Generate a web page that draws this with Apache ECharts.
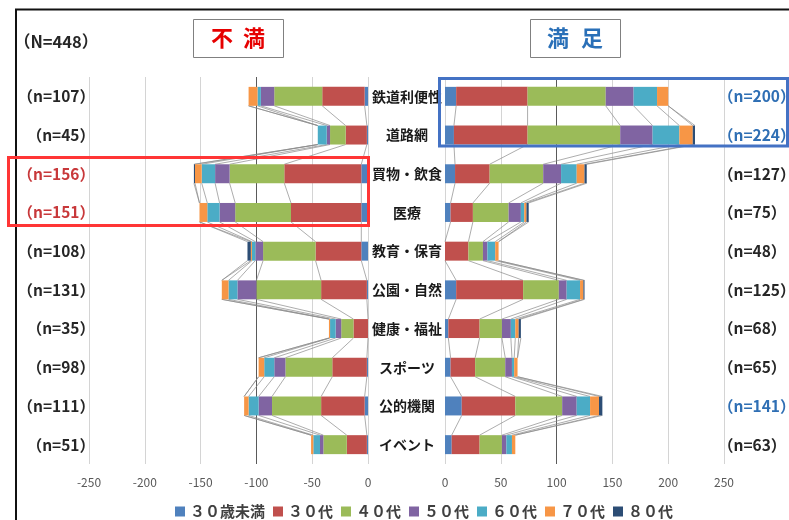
<!DOCTYPE html>
<html>
<head>
<meta charset="utf-8">
<script src="https://cdn.jsdelivr.net/npm/echarts@6/dist/echarts.min.js"></script>
<style>
html,body{margin:0;padding:0;background:#fff}
#c{width:789px;height:520px}
</style>
</head>
<body>
<div id="c"></div>
<script>
// Survey items (top to bottom)
const categories = ['鉄道利便性','道路網','買物・飲食','医療','教育・保育','公園・自然','健康・福祉','スポーツ','公的機関','イベント'];
const ageGroups = ['３０歳未満','３０代','４０代','５０代','６０代','７０代','８０代'];
const ageColors = ['#4f81bd','#c0504d','#9bbb59','#8064a2','#4bacc6','#f79646','#2c4d75'];

// 不満 (dissatisfied) respondents by age group, in category order
const dissatU30 = [3, 1, 6, 6, 6, 1, 0, 1, 3, 1];
const dissat30s = [38, 19, 69, 63, 41, 41, 13, 31, 39, 18];
const dissat40s = [43, 14, 49, 50, 47, 58, 11, 42, 44, 21];
const dissat50s = [12, 3, 13, 14, 7, 17, 5, 10, 12, 3];
const dissat60s = [3, 8, 12, 11, 3, 8, 5, 9, 9, 6];
const dissat70s = [8, 0, 6, 7, 1, 6, 1, 5, 4, 2];
const dissat80s = [0, 0, 1, 0, 3, 0, 0, 0, 0, 0];

// 満足 (satisfied) respondents by age group, in category order
const satU30 = [10, 8, 9, 5, 0, 10, 3, 5, 15, 6];
const sat30s = [64, 66, 31, 20, 21, 60, 28, 22, 48, 25];
const sat40s = [70, 83, 48, 32, 13, 32, 20, 27, 42, 20];
const sat50s = [25, 29, 16, 11, 4, 7, 8, 6, 13, 4];
const sat60s = [21, 24, 14, 3, 7, 12, 4, 2, 12, 5];
const sat70s = [10, 12, 7, 2, 3, 3, 3, 3, 8, 3];
const sat80s = [0, 2, 2, 2, 0, 1, 2, 0, 3, 0];

// sample sizes shown beside each row
const dissatN = [107, 45, 156, 151, 108, 131, 35, 98, 111, 51];
const satN = [200, 224, 127, 75, 48, 125, 68, 65, 141, 63];
const totalN = 448;

// axis ticks
const dissatTicks = [-250, -200, -150, -100, -50, 0];
const satTicks = [0, 50, 100, 150, 200, 250];

const dissatGroups = [dissatU30, dissat30s, dissat40s, dissat50s, dissat60s, dissat70s, dissat80s];
const satGroups = [satU30, sat30s, sat40s, sat50s, sat60s, sat70s, sat80s];

const FONT = '"Noto Sans CJK JP", "Noto Sans", sans-serif';
const BAR_RATIO = 0.49;
const RED_ROWS = [2, 3];
const BLUE_ROWS = [0, 1, 8];

const chart = echarts.init(document.getElementById('c'), null, {renderer: 'canvas'});

// thin "series lines" joining each stack boundary between neighbouring bars
function connectors(axisIdx, yIdx, groups, sign) {
  const data = [];
  for (let i = 0; i < categories.length - 1; i++) data.push([0, i]);
  return {
    type: 'custom',
    xAxisIndex: axisIdx,
    yAxisIndex: yIdx,
    silent: true,
    z: 1,
    renderItem(params, api) {
      const i = api.value(1);
      const half = api.size([0, 1])[1] * BAR_RATIO / 2;
      const children = [];
      let a = 0, b = 0;
      for (let k = 0; k < groups.length; k++) {
        a += groups[k][i];
        b += groups[k][i + 1];
        const p1 = api.coord([sign * a, i]);
        const p2 = api.coord([sign * b, i + 1]);
        children.push({
          type: 'line',
          shape: {x1: p1[0], y1: p1[1] + half, x2: p2[0], y2: p2[1] - half},
          style: {stroke: '#8a8a8a', lineWidth: 0.7}
        });
      }
      return {type: 'group', children};
    },
    data
  };
}

function refLine(value) {
  return {
    silent: true, symbol: 'none', z: 1,
    label: {show: false},
    lineStyle: {color: '#5a5a5a', width: 1, type: 'solid'},
    data: [{xAxis: value}]
  };
}

const series = [];
ageGroups.forEach((name, k) => {
  series.push({
    name, type: 'bar', stack: 'dissat', xAxisIndex: 0, yAxisIndex: 0,
    barWidth: (BAR_RATIO * 100) + '%', z: 2,
    itemStyle: {color: ageColors[k]},
    data: dissatGroups[k].map(v => -v)
  });
  series.push({
    name, type: 'bar', stack: 'sat', xAxisIndex: 1, yAxisIndex: 1,
    barWidth: (BAR_RATIO * 100) + '%', z: 2,
    itemStyle: {color: ageColors[k]},
    data: satGroups[k].slice()
  });
});
const leftLinks = connectors(0, 0, dissatGroups, -1);
leftLinks.markLine = refLine(-100);
const rightLinks = connectors(1, 1, satGroups, 1);
rightLinks.markLine = refLine(100);
series.push(leftLinks, rightLinks);

const valueAxisCommon = {
  type: 'value', interval: 50,
  axisLine: {show: false}, axisTick: {show: false},
  axisLabel: {color: '#595959', fontSize: 12, fontFamily: FONT, margin: 12},
  splitLine: {show: true, lineStyle: {color: '#d4d4d4', width: 1}}
};

const nLabel = n => '（n=' + n + '）';

const option = {
  animation: false,
  backgroundColor: '#fff',
  grid: [
    {left: 89, width: 279, top: 77, height: 387, outerBoundsMode: 'none', containLabel: false},
    {left: 445, width: 279, top: 77, height: 387, outerBoundsMode: 'none', containLabel: false}
  ],
  xAxis: [
    Object.assign({}, valueAxisCommon, {gridIndex: 0, min: dissatTicks[0], max: dissatTicks[dissatTicks.length - 1]}),
    Object.assign({}, valueAxisCommon, {gridIndex: 1, min: satTicks[0], max: satTicks[satTicks.length - 1]})
  ],
  yAxis: [
    {
      type: 'category', gridIndex: 0, data: categories, inverse: true, position: 'left',
      axisLine: {show: false}, axisTick: {show: false}, splitLine: {show: false},
      axisLabel: {
        interval: 0, margin: -6, fontSize: 15.5, fontWeight: 'bold', fontFamily: FONT,
        formatter: (v, i) => nLabel(dissatN[i]),
        color: (v, i) => RED_ROWS.indexOf(i) >= 0 ? '#c8383a' : '#262626'
      }
    },
    {
      type: 'category', gridIndex: 1, data: categories, inverse: true, position: 'left',
      axisLine: {show: false}, axisTick: {show: false}, splitLine: {show: false},
      axisLabel: {
        interval: 0, margin: 38, align: 'center', fontSize: 14, fontWeight: 'bold',
        fontFamily: FONT, color: '#1a1a1a'
      }
    },
    {
      type: 'category', gridIndex: 1, data: categories, inverse: true, position: 'right',
      axisLine: {show: false}, axisTick: {show: false}, splitLine: {show: false},
      axisLabel: {
        interval: 0, margin: -6, fontSize: 15.5, fontWeight: 'bold', fontFamily: FONT,
        formatter: (v, i) => nLabel(satN[i]),
        color: (v, i) => BLUE_ROWS.indexOf(i) >= 0 ? '#2f6fb4' : '#262626'
      }
    }
  ],
  legend: {
    left: 170, top: 499,
    icon: 'rect', itemWidth: 10, itemHeight: 10, itemGap: 8,
    data: ageGroups,
    textStyle: {fontSize: 15, fontWeight: 'bold', color: '#404040', fontFamily: FONT}
  },
  graphic: [
    // outer frame
    {type: 'rect', z: 50, silent: true,
      shape: {x: 16, y: 9.5, width: 900, height: 700},
      style: {fill: 'none', stroke: '#111', lineWidth: 2}},
    // panel headings
    {type: 'rect', z: 50, silent: true,
      shape: {x: 193.5, y: 19.5, width: 90, height: 38},
      style: {fill: '#fff', stroke: '#808080', lineWidth: 1}},
    {type: 'text', z: 51, silent: true, x: 222, y: 38,
      style: {text: '不', fill: '#e60000', font: 'bold 22px ' + FONT, align: 'center', verticalAlign: 'middle'}},
    {type: 'text', z: 51, silent: true, x: 254, y: 38,
      style: {text: '満', fill: '#e60000', font: 'bold 22px ' + FONT, align: 'center', verticalAlign: 'middle'}},
    {type: 'rect', z: 50, silent: true,
      shape: {x: 530.5, y: 19.5, width: 90, height: 38},
      style: {fill: '#fff', stroke: '#808080', lineWidth: 1}},
    {type: 'text', z: 51, silent: true, x: 558, y: 38,
      style: {text: '満', fill: '#2a70b8', font: 'bold 22px ' + FONT, align: 'center', verticalAlign: 'middle'}},
    {type: 'text', z: 51, silent: true, x: 592, y: 38,
      style: {text: '足', fill: '#2a70b8', font: 'bold 22px ' + FONT, align: 'center', verticalAlign: 'middle'}},
    // overall sample size
    {type: 'text', z: 51, silent: true, x: 14, y: 42,
      style: {text: '（N=' + totalN + '）', fill: '#262626', font: 'bold 16.5px ' + FONT, align: 'left', verticalAlign: 'middle'}},
    // highlight boxes
    {type: 'rect', z: 60, silent: true,
      shape: {x: 8.5, y: 157.5, width: 360, height: 68},
      style: {fill: 'none', stroke: '#ff3535', lineWidth: 3}},
    {type: 'rect', z: 60, silent: true,
      shape: {x: 439.5, y: 78.5, width: 348, height: 67.5},
      style: {fill: 'none', stroke: '#4472c4', lineWidth: 3}}
  ],
  series
};

chart.setOption(option);
</script>
</body>
</html>
